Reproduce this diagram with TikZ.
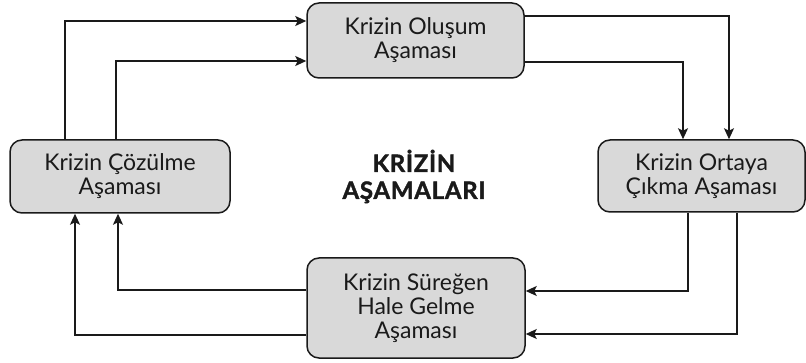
\documentclass[tikz,border=0pt]{standalone}
\usepackage{fontspec}
\setmainfont{Lato}[BoldFeatures={FakeBold=1.2}]
\usetikzlibrary{arrows.meta}
\definecolor{boxfill}{HTML}{D9D9D9}
\definecolor{ink}{HTML}{1A1A1A}
\newfontfamily\titlefont{Lato}[LetterSpace=3,BoldFeatures={FakeBold=1.5}]
\begin{document}
\begin{tikzpicture}[x=1pt,y=-1pt,
  stage/.style={draw=ink,line width=1.5pt,fill=boxfill,rounded corners=12pt,
    align=center,font=\fontsize{23}{24}\selectfont,inner sep=0pt,text=ink},
  arr/.style={draw=ink,line width=1.5pt,-{Stealth[length=11pt,width=10pt,inset=2.5pt]}}]
\useasboundingbox (0,0) rectangle (806,363);
\node[stage,minimum width=217pt,minimum height=75pt] (T) at (415.5,40.5) {Krizin Oluşum\\Aşaması};
\node[stage,minimum width=220pt,minimum height=73pt] (L) at (120,176.5) {Krizin Çözülme\\Aşaması};
\node[stage,minimum width=207pt,minimum height=72pt] (R) at (701.5,176) {Krizin Ortaya\\Çıkma Aşaması};
\node[stage,minimum width=218pt,minimum height=100pt] (B) at (416,308) {Krizin Süreğen\\Hale Gelme\\Aşaması};
\node[align=center,font=\titlefont\fontsize{24}{27}\selectfont\bfseries,text=ink] (C) at (414,176.5) {KRİZİN\\AŞAMALARI};
\coordinate (a1) at (65,21);
\coordinate (a2) at (116,61);
\coordinate (a3) at (729,16);
\coordinate (a4) at (683,62);
\coordinate (a5) at (688,291);
\coordinate (a6) at (737,334);
\coordinate (a7) at (118,290);
\coordinate (a8) at (75,335);
\draw[arr] (L.north -| a1) |- (T.west |- a1);
\draw[arr] (L.north -| a2) |- (T.west |- a2);
\draw[arr] (T.east |- a3) -| (R.north -| a3);
\draw[arr] (T.east |- a4) -| (R.north -| a4);
\draw[arr] (R.south -| a5) |- (B.east |- a5);
\draw[arr] (R.south -| a6) |- (B.east |- a6);
\draw[arr] (B.west |- a7) -| (L.south -| a7);
\draw[arr] (B.west |- a8) -| (L.south -| a8);
\end{tikzpicture}
\end{document}
